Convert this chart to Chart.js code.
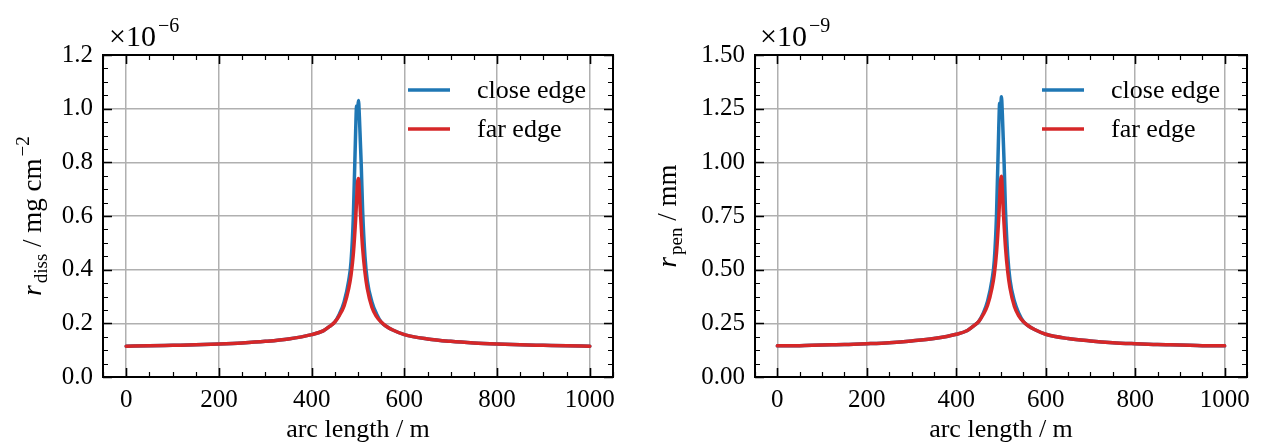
<!DOCTYPE html>
<html>
<head>
<meta charset="utf-8">
<script src="https://cdn.jsdelivr.net/npm/chart.js@4.4.1/dist/chart.umd.min.js"></script>
<style>
  body { margin: 0; background: #fff; width: 1262px; height: 447px; overflow: hidden; }
  .panel { position: absolute; top: 0; width: 631px; height: 447px; }
</style>
</head>
<body>
<div class="panel" style="left:0"><canvas id="diss" width="631" height="447"></canvas></div>
<div class="panel" style="left:631px"><canvas id="pen" width="631" height="447"></canvas></div>
<script>
// donnees (x en m)
const arcLength = [0, 50, 100, 150, 200, 250, 300, 350, 400, 425, 440, 450, 460, 470, 480, 485, 490, 495, 497, 499,
  501, 503, 505, 507, 510, 515, 520, 530, 540, 550, 560, 575, 600, 650, 700, 750, 800, 850, 900, 950, 1000];

// r_diss en 1e-6 mg cm^-2
const dissClose = [0.115, 0.116, 0.118, 0.120, 0.123, 0.127, 0.133, 0.142, 0.158, 0.172, 0.19, 0.205, 0.235, 0.28, 0.36, 0.43, 0.60, 0.92, 1.01, 0.995,
  1.03, 0.97, 0.88, 0.79, 0.62, 0.45, 0.36, 0.28, 0.235, 0.205, 0.19, 0.175, 0.158, 0.142, 0.133, 0.127, 0.123, 0.120, 0.118, 0.116, 0.115];
const dissFar = [0.115, 0.116, 0.118, 0.120, 0.123, 0.127, 0.133, 0.142, 0.158, 0.172, 0.19, 0.205, 0.23, 0.265, 0.33, 0.38, 0.46, 0.59, 0.66, 0.725,
  0.74, 0.69, 0.62, 0.56, 0.48, 0.39, 0.33, 0.26, 0.225, 0.205, 0.19, 0.175, 0.158, 0.142, 0.133, 0.127, 0.123, 0.120, 0.118, 0.116, 0.115];

// r_pen en 1e-9 mm
const penClose = [0.145, 0.146, 0.149, 0.151, 0.155, 0.160, 0.168, 0.179, 0.199, 0.217, 0.240, 0.258, 0.296, 0.353, 0.454, 0.542, 0.756, 1.16, 1.275, 1.255,
  1.305, 1.225, 1.11, 0.995, 0.78, 0.567, 0.454, 0.353, 0.296, 0.258, 0.240, 0.221, 0.199, 0.179, 0.168, 0.160, 0.155, 0.151, 0.149, 0.146, 0.145];
const penFar = [0.145, 0.146, 0.149, 0.151, 0.155, 0.160, 0.168, 0.179, 0.199, 0.217, 0.240, 0.258, 0.290, 0.334, 0.416, 0.479, 0.580, 0.743, 0.832, 0.914,
  0.935, 0.870, 0.781, 0.706, 0.605, 0.491, 0.416, 0.328, 0.284, 0.258, 0.240, 0.221, 0.199, 0.179, 0.168, 0.160, 0.155, 0.151, 0.149, 0.146, 0.145];

// graduations
const xTicks = [0, 200, 400, 600, 800, 1000];
const dissTicks = [0, 0.2, 0.4, 0.6, 0.8, 1.0, 1.2];
const penTicks = [0, 0.25, 0.5, 0.75, 1.0, 1.25, 1.5];

const SERIF = "'Liberation Serif', 'Times New Roman', serif";
const BLUE = '#1f77b4';
const RED = '#d62728';

function pts(ys) {
  return arcLength.map((x, i) => ({ x: x, y: ys[i] }));
}

// cadre, petites graduations, legende, titres
function decorPlugin(cfg) {
  return {
    id: 'decor',
    afterDraw(chart) {
      const ctx = chart.ctx;
      const a = chart.chartArea;
      const sx = chart.scales.x, sy = chart.scales.y;
      ctx.save();
      ctx.strokeStyle = '#000';

      // ticks vers l'interieur sur les 4 cotes
      function tick(horizontal, v, len, w) {
        ctx.lineWidth = w;
        ctx.beginPath();
        if (horizontal) {
          const p = Math.round(sx.getPixelForValue(v)) + 0.5;
          ctx.moveTo(p, a.bottom); ctx.lineTo(p, a.bottom - len);
          ctx.moveTo(p, a.top); ctx.lineTo(p, a.top + len);
        } else {
          const p = Math.round(sy.getPixelForValue(v)) + 0.5;
          ctx.moveTo(a.left, p); ctx.lineTo(a.left + len, p);
          ctx.moveTo(a.right, p); ctx.lineTo(a.right - len, p);
        }
        ctx.stroke();
      }
      for (let v = -50; v <= 1050; v += 50) {
        if (xTicks.includes(v)) tick(true, v, 9, 1.6);
        else tick(true, v, 5, 1.2);
      }
      const ys = cfg.yTicks;
      const minor = (ys[1] - ys[0]) / 4;
      for (let k = 0; k <= (ys.length - 1) * 4; k++) {
        const v = k * minor;
        if (k % 4 == 0) tick(false, v, 9, 1.6);
        else tick(false, v, 5, 1.2);
      }

      // cadre
      ctx.lineWidth = 2;
      ctx.strokeRect(a.left, a.top, a.right - a.left, a.bottom - a.top);

      // legende
      ctx.lineWidth = 3.5;
      ctx.lineCap = 'butt';
      [[BLUE, 'close edge', 90], [RED, 'far edge', 129]].forEach(([c, txt, y]) => {
        ctx.strokeStyle = c;
        ctx.beginPath();
        ctx.moveTo(cfg.legX, y); ctx.lineTo(cfg.legX + 42, y);
        ctx.stroke();
        ctx.fillStyle = '#000';
        ctx.font = '26px ' + SERIF;
        ctx.textBaseline = 'middle';
        ctx.textAlign = 'left';
        ctx.fillText(txt, cfg.legX + 69, y + 1);
      });

      // facteur d'echelle
      ctx.textBaseline = 'alphabetic';
      ctx.font = '30px ' + SERIF;
      ctx.fillText('\u00d710', cfg.offX, 46);
      const w10 = ctx.measureText('\u00d710').width;
      ctx.font = '20px ' + SERIF;
      ctx.fillText('\u2212' + cfg.exp, cfg.offX + w10 + 2, 32);

      // titre axe x
      ctx.font = '26px ' + SERIF;
      ctx.textAlign = 'center';
      ctx.fillText('arc length / m', (a.left + a.right) / 2, 437);

      // titre axe y (avec indice / exposant)
      const parts = cfg.yTitle;
      let total = 0;
      parts.forEach(p => { ctx.font = p.f; total += ctx.measureText(p.t).width + (p.gap || 0); });
      ctx.translate(cfg.titleX, (a.top + a.bottom) / 2);
      ctx.rotate(-Math.PI / 2);
      ctx.textAlign = 'left';
      let x = -total / 2;
      parts.forEach(p => {
        ctx.font = p.f;
        ctx.fillText(p.t, x, 9 + (p.dy || 0));
        x += ctx.measureText(p.t).width + (p.gap || 0);
      });
      ctx.restore();
    }
  };
}

function makeChart(id, cfg) {
  return new Chart(document.getElementById(id), {
    type: 'line',
    data: {
      datasets: [
        { label: 'far edge', data: pts(cfg.far), borderColor: RED, borderWidth: 3.5 },
        { label: 'close edge', data: pts(cfg.close), borderColor: BLUE, borderWidth: 3.5 },
      ],
    },
    options: {
      responsive: false,
      animation: false,
      layout: { padding: { top: 55, right: cfg.padRight, left: 0, bottom: 0 } },
      elements: {
        point: { radius: 0 },
        line: { cubicInterpolationMode: 'monotone', borderCapStyle: 'round', borderJoinStyle: 'round' },
      },
      plugins: { legend: { display: false }, tooltip: { enabled: false } },
      scales: {
        x: {
          type: 'linear', min: -50, max: 1050,
          afterBuildTicks: s => { s.ticks = xTicks.map(v => ({ value: v })); },
          afterFit: s => { s.height = 70; },
          grid: { color: '#b0b0b0', lineWidth: 1.5, drawTicks: false },
          border: { display: false },
          ticks: {
            padding: 8, color: '#000', maxRotation: 0, autoSkip: false, font: { family: SERIF, size: 25 },
            callback: v => String(v),
          },
        },
        y: {
          type: 'linear', min: 0, max: cfg.yTicks[cfg.yTicks.length - 1],
          afterBuildTicks: s => { s.ticks = cfg.yTicks.map(v => ({ value: v })); },
          afterFit: s => { s.width = cfg.yWidth; },
          grid: { color: '#b0b0b0', lineWidth: 1.5, drawTicks: false },
          border: { display: false },
          ticks: {
            padding: 10, color: '#000', autoSkip: false, font: { family: SERIF, size: 25 },
            callback: v => v.toFixed(cfg.dec),
          },
        },
      },
    },
    plugins: [decorPlugin(cfg)],
  });
}

makeChart('diss', {
  close: dissClose, far: dissFar, yTicks: dissTicks, dec: 1,
  yWidth: 103, padRight: 18, legX: 408, offX: 109, exp: '6', titleX: 32,
  yTitle: [
    { t: 'r', f: 'italic 27px ' + SERIF, gap: 2 },
    { t: 'diss', f: '19px ' + SERIF, dy: 6 },
    { t: ' / mg cm', f: '27px ' + SERIF, gap: 2 },
    { t: '\u22122', f: '19px ' + SERIF, dy: -12 },
  ],
});

makeChart('pen', {
  close: penClose, far: penFar, yTicks: penTicks, dec: 2,
  yWidth: 124, padRight: 15, legX: 411, offX: 129, exp: '9', titleX: 36,
  yTitle: [
    { t: 'r', f: 'italic 27px ' + SERIF, gap: 2 },
    { t: 'pen', f: '19px ' + SERIF, dy: 6 },
    { t: ' / mm', f: '27px ' + SERIF },
  ],
});
</script>
</body>
</html>
